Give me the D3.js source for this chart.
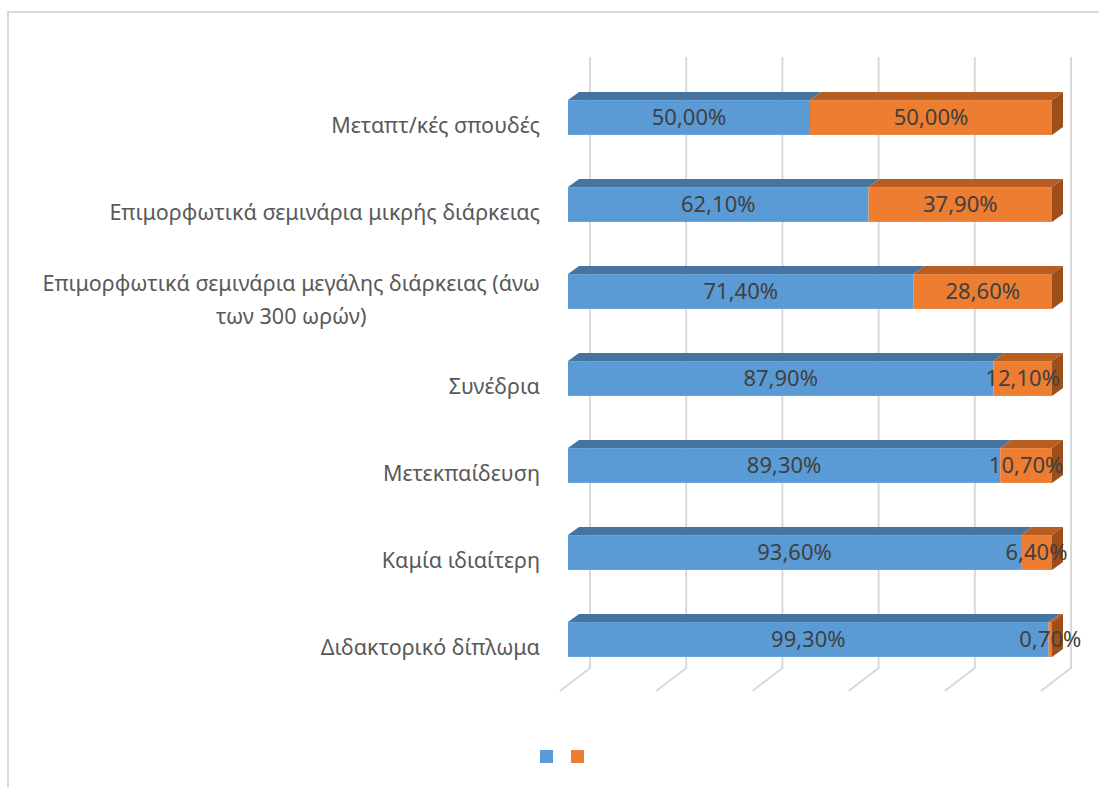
<!DOCTYPE html>
<html>
<head>
<meta charset="utf-8">
<script src="https://cdn.jsdelivr.net/npm/d3@7"></script>
<style>
  html, body { margin: 0; padding: 0; background: #ffffff; }
  svg { display: block; }
  text { font-family: "Noto Sans", "Open Sans", sans-serif; }
</style>
</head>
<body>
<svg id="chart" width="1099" height="787"></svg>
<script>
// Categories, top to bottom
const categories = [
  ["Μεταπτ/κές σπουδές"],
  ["Επιμορφωτικά σεμινάρια μικρής διάρκειας"],
  ["Επιμορφωτικά σεμινάρια μεγάλης διάρκειας (άνω", "των 300 ωρών)"],
  ["Συνέδρια"],
  ["Μετεκπαίδευση"],
  ["Καμία ιδιαίτερη"],
  ["Διδακτορικό δίπλωμα"]
];
// Share of each answer (percent)
const firstSeries  = [50.0, 62.1, 71.4, 87.9, 89.3, 93.6, 99.3];
const secondSeries = [50.0, 37.9, 28.6, 12.1, 10.7, 6.4, 0.7];
const seriesNames = ["", ""];
const tickValues = [0, 20, 40, 60, 80, 100];

const svg = d3.select("#chart");

const colors = {
  front: ["#5b9bd5", "#ed7d31"],
  top:   ["#4574a0", "#b95e22"],
  side:  ["#3a6690", "#9d4f1b"]
};

// Front plane of the bars and back wall of the 3D plot area
const x = d3.scaleLinear().domain([0, 100]).range([568, 1052]);
const xBack = d3.scaleLinear().domain([0, 100]).range([590, 1071]);
const keys = categories.map((c, i) => i);
const y = d3.scaleBand().domain(keys).range([74, 683]).paddingInner(0.6).paddingOuter(0.3);

const depthX = 11, depthY = 8;
const wallTop = 57, floorBack = 668, floorFront = 691, floorDx = -30;

// Frame of the chart area
svg.append("rect")
  .attr("x", 8).attr("y", 12).attr("width", 1300).attr("height", 900)
  .attr("fill", "none").attr("stroke", "#d9d9d9").attr("stroke-width", 2);

// Gridlines on the back wall and across the floor
const grid = svg.append("g").attr("stroke", "#d9d9d9").attr("stroke-width", 2).attr("fill", "none");
grid.selectAll("path").data(tickValues).join("path")
  .attr("d", v => {
    const xb = xBack(v);
    return `M${xb},${wallTop}L${xb},${floorBack}L${xb + floorDx},${floorFront}`;
  });

// Stacked bars
const rows = keys.map(i => {
  const a = firstSeries[i], b = secondSeries[i];
  return [
    { s: 0, i, x0: 0, x1: a, v: a },
    { s: 1, i, x0: a, x1: a + b, v: b }
  ];
});

const barG = svg.append("g");
rows.forEach(segs => {
  const g = barG.append("g");
  segs.forEach(d => {
    const y0 = y(d.i), h = y.bandwidth();
    const xa = x(d.x0), xb = x(d.x1);
    // top face
    g.append("path")
      .attr("d", `M${xa},${y0}L${xa + depthX},${y0 - depthY}L${xb + depthX},${y0 - depthY}L${xb},${y0}Z`)
      .attr("fill", colors.top[d.s]);
    // front face
    g.append("rect")
      .attr("x", xa).attr("y", y0).attr("width", xb - xa).attr("height", h)
      .attr("fill", colors.front[d.s]);
  });
  // right side face of the stack end
  const last = segs[segs.length - 1];
  const y0 = y(last.i), h = y.bandwidth(), xe = x(last.x1);
  g.append("path")
    .attr("d", `M${xe},${y0}L${xe + depthX},${y0 - depthY}L${xe + depthX},${y0 + h - depthY}L${xe},${y0 + h}Z`)
    .attr("fill", colors.side[last.s]);
});

// Value labels
const fmt = v => d3.format(".2f")(v).replace(".", ",") + "%";
const labG = svg.append("g").attr("fill", "#404040").attr("font-size", 22).attr("text-anchor", "middle");
rows.flat().forEach(d => {
  labG.append("text")
    .attr("x", (x(d.x0) + x(d.x1)) / 2)
    .attr("y", y(d.i) + y.bandwidth() / 2)
    .attr("dy", "0.36em")
    .text(fmt(d.v));
});

// Category labels
const catG = svg.append("g").attr("fill", "#595959").attr("font-size", 21.5);
categories.forEach((lines, i) => {
  const cy = y(i) + y.bandwidth() / 2 + 8;
  const lh = 33;
  const startY = cy - (lines.length - 1) * lh / 2;
  const t = catG.append("text").attr("text-anchor", "end");
  const first = t.append("tspan").attr("x", 540).attr("y", startY).attr("dy", "0.36em").text(lines[0]);
  if (lines.length > 1) {
    const w = first.node().getComputedTextLength();
    lines.slice(1).forEach((ln, k) => {
      catG.append("text").attr("text-anchor", "middle")
        .attr("x", 540 - w / 2).attr("y", startY + (k + 1) * lh).attr("dy", "0.36em").text(ln);
    });
  }
});

// Legend swatches
const legend = svg.append("g");
seriesNames.forEach((name, s) => {
  legend.append("rect")
    .attr("x", 540 + s * 31).attr("y", 750).attr("width", 13).attr("height", 13)
    .attr("fill", colors.front[s]);
  legend.append("text").attr("x", 556 + s * 31).attr("y", 757).attr("dy", "0.36em")
    .attr("font-size", 18).attr("fill", "#595959").text(name);
});
</script>
</body>
</html>
